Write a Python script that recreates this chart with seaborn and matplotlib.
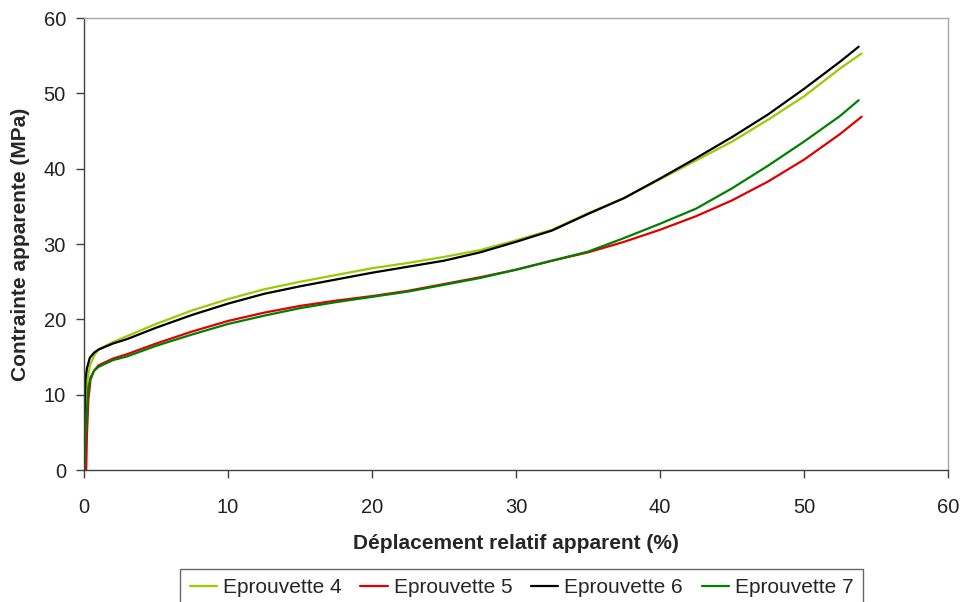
import pandas as pd
import matplotlib
matplotlib.use("Agg")
import matplotlib.pyplot as plt
import seaborn as sns

# Eprouvette 4
x4 = [0, 0.1, 0.2, 0.4, 0.7, 1, 2, 3, 5, 7.5, 10, 12.5, 15, 17.5, 20, 22.5, 25, 27.5,
      30, 32.5, 35, 37.5, 40, 42.5, 45, 47.5, 50, 52.5, 54.0]
y4 = [0, 8.0, 11.5, 13.8, 15.2, 16.0, 17.0, 17.8, 19.4, 21.2, 22.7, 24.0, 25.0, 25.9,
      26.8, 27.5, 28.3, 29.2, 30.5, 31.9, 34.1, 36.1, 38.6, 41.1, 43.6, 46.5, 49.6, 53.3, 55.3]

# Eprouvette 5
x5 = [0.15, 0.2, 0.3, 0.45, 0.7, 1, 2, 3, 5, 7.5, 10, 12.5, 15, 17.5, 20, 22.5, 25, 27.5,
      30, 32.5, 35, 37.5, 40, 42.5, 45, 47.5, 50, 52.5, 54.0]
y5 = [0, 4.5, 9.3, 12.0, 13.2, 13.9, 14.8, 15.4, 16.8, 18.4, 19.8, 20.9, 21.8, 22.5,
      23.1, 23.8, 24.7, 25.6, 26.6, 27.8, 28.9, 30.3, 31.9, 33.7, 35.8, 38.3, 41.2, 44.6, 46.9]

# Eprouvette 6
x6 = [0, 0.05, 0.1, 0.2, 0.4, 0.7, 1, 2, 3, 5, 7.5, 10, 12.5, 15, 17.5, 20, 22.5, 25, 27.5,
      30, 32.5, 35, 37.5, 40, 42.5, 45, 47.5, 50, 52.5, 53.8]
y6 = [0, 9.0, 12.0, 13.5, 14.9, 15.6, 16.0, 16.8, 17.4, 18.9, 20.6, 22.1, 23.4, 24.4, 25.3,
      26.2, 27.0, 27.8, 28.9, 30.3, 31.8, 34.0, 36.1, 38.7, 41.4, 44.2, 47.2, 50.6, 54.2, 56.2]

# Eprouvette 7
x7 = [0, 0.1, 0.2, 0.3, 0.45, 0.7, 1, 2, 3, 5, 7.5, 10, 12.5, 15, 17.5, 20, 22.5, 25, 27.5,
      30, 32.5, 35, 37.5, 40, 42.5, 45, 47.5, 50, 52.5, 53.8]
y7 = [0, 4.0, 8.0, 11.0, 12.3, 13.2, 13.7, 14.6, 15.1, 16.5, 18.0, 19.4, 20.5, 21.5, 22.3,
      23.0, 23.7, 24.6, 25.5, 26.6, 27.8, 29.0, 30.8, 32.7, 34.7, 37.4, 40.4, 43.6, 47.0, 49.1]

labels = ["Eprouvette 4", "Eprouvette 5", "Eprouvette 6", "Eprouvette 7"]
colors = ["#99cc00", "#e00000", "#000000", "#008000"]

frames = []
for lab, xs, ys in zip(labels, [x4, x5, x6, x7], [y4, y5, y6, y7]):
    frames.append(pd.DataFrame({"x": xs, "y": ys, "serie": lab}))
df = pd.concat(frames, ignore_index=True)

sns.set_style("white")
plt.rcParams["font.family"] = ["Liberation Sans", "DejaVu Sans"]

fig = plt.figure(figsize=(9.68, 6.02), dpi=100)
ax = fig.add_axes([0.0868, 0.219, 0.8925, 0.751])

sns.lineplot(data=df, x="x", y="y", hue="serie", palette=dict(zip(labels, colors)),
             sort=False, estimator=None, linewidth=1.6, ax=ax)

ax.set_xlim(0, 60)
ax.set_ylim(0, 60)
ax.set_xticks(range(0, 61, 10))
ax.set_yticks(range(0, 61, 10))
ax.tick_params(axis="both", direction="out", length=6, width=1, color="#404040",
               labelsize=14.5, left=True, bottom=True, labelcolor="#222222")
ax.tick_params(axis="x", pad=14)
ax.tick_params(axis="y", pad=7)
for s in ["left", "bottom"]:
    ax.spines[s].set_color("#404040")
    ax.spines[s].set_linewidth(1)
for s in ["top", "right"]:
    ax.spines[s].set_color("#a8a8a8")
    ax.spines[s].set_linewidth(1)

ax.set_xlabel("Déplacement relatif apparent (%)", fontsize=15, fontweight="bold", labelpad=12)
ax.set_ylabel("Contrainte apparente (MPa)", fontsize=15, fontweight="bold", labelpad=10)

ax.get_legend().remove()
handles, labs = ax.get_legend_handles_labels()
leg = fig.legend(handles, labs, loc="upper center", bbox_to_anchor=(0.539, 1 - 569 / 602),
                 ncol=4, fontsize=15, frameon=True, fancybox=False, handlelength=1.3,
                 handletextpad=0.3, columnspacing=0.9, borderpad=0.45, borderaxespad=0)
leg.get_frame().set_edgecolor("#404040")
leg.get_frame().set_linewidth(1)

fig.savefig("out.png", dpi=100)
